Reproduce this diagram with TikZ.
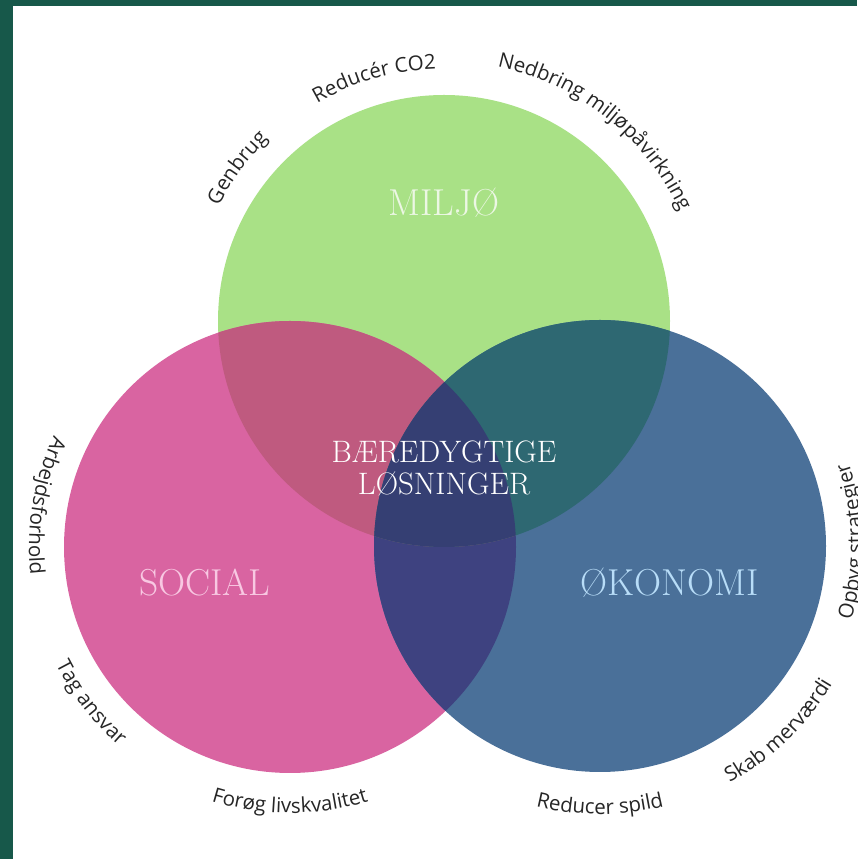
\documentclass[tikz,border=0pt]{standalone}
\usepackage{fontspec}
\usepackage{tikz}
\usetikzlibrary{decorations.text}
\newfontfamily\labelsans{Open Sans}
\definecolor{framegreen}{RGB}{23,88,74}
\definecolor{miljogreen}{RGB}{169,225,134}
\definecolor{socialpink}{RGB}{217,100,161}
\definecolor{okoblue}{RGB}{74,112,153}
\definecolor{greenpink}{RGB}{191,90,127}
\definecolor{greenblue}{RGB}{46,104,114}
\definecolor{pinkblue}{RGB}{62,66,128}
\definecolor{centreblue}{RGB}{53,63,115}
\definecolor{miljotext}{RGB}{236,247,228}
\definecolor{socialtext}{RGB}{248,200,226}
\definecolor{okotext}{RGB}{184,221,248}

\begin{document}
\begin{tikzpicture}[x=1pt,y=1pt]
    \tikzset{title/.style={font=\fontsize{37.5}{42}\selectfont}}
    \tikzset{curvetext/.style={decorate,decoration={text along path,text align=center,text color=black!85,
        text={|\labelsans\fontsize{20.5}{24}\selectfont|#1}}}}

    % frame
    \useasboundingbox (0,0) rectangle (857,859);
    \fill[framegreen] (0,0) rectangle (857,859);
    \fill[white] (12.5,0) rectangle (857,853);

    % the three circles
    \coordinate (miljo) at (444,538);
    \coordinate (social) at (290,312);
    \coordinate (okonomi) at (600,313);
    \fill[miljogreen] (miljo) circle[radius=226];
    \fill[socialpink] (social) circle[radius=226];
    \fill[okoblue] (okonomi) circle[radius=226];

    % overlaps
    \begin{scope}
      \clip (social) circle[radius=226];
      \fill[pinkblue] (okonomi) circle[radius=226];
    \end{scope}
    \begin{scope}
      \clip (miljo) circle[radius=226];
      \fill[greenpink] (social) circle[radius=226];
      \fill[greenblue] (okonomi) circle[radius=226];
      \clip (social) circle[radius=226];
      \fill[centreblue] (okonomi) circle[radius=226];
    \end{scope}

    % titles
    \node[title,miljotext] (miljoT) at (444,656) {MILJØ};
    \node[title,socialtext] (socialT) at (205,276) {SOCIAL};
    \node[title,okotext] (okonomiT) at (670,276) {ØKONOMI};
    \node[white,font=\fontsize{31}{32}\selectfont,align=center] (centre) at (444,390) {BÆREDYGTIGE\\LØSNINGER};

    % Miljø labels (clockwise, over the top)
    \path[curvetext={Genbrug}] ([shift={(203.5:253)}]miljo) arc[start angle=203.5,end angle=83.5,radius=253];
    \path[curvetext={Reducér CO2}] ([shift={(166:252)}]miljo) arc[start angle=166,end angle=46,radius=252];
    \path[curvetext={Nedbring miljøpåvirkning}] ([shift={(111.5:260)}]miljo) arc[start angle=111.5,end angle=-8.5,radius=260];

    % Social labels (counter clockwise)
    \path[curvetext={Arbejdsforhold}] ([shift={(110.5:261)}]social) arc[start angle=110.5,end angle=230.5,radius=261];
    \path[curvetext={Tag ansvar}] ([shift={(158:262)}]social) arc[start angle=158,end angle=278,radius=262];
    \path[curvetext={Forøg livskvalitet}] ([shift={(210:266)}]social) arc[start angle=210,end angle=330,radius=266];

    % Økonomi labels (counter clockwise)
    \path[curvetext={Reducer spild}] ([shift={(210:268)}]okonomi) arc[start angle=210,end angle=330,radius=268];
    \path[curvetext={Skab merværdi}] ([shift={(254:270)}]okonomi) arc[start angle=254,end angle=374,radius=270];
    \path[curvetext={Opbyg strategier}] ([shift={(-59:262)}]okonomi) arc[start angle=-59,end angle=61,radius=262];
  \end{tikzpicture}
\end{document}
